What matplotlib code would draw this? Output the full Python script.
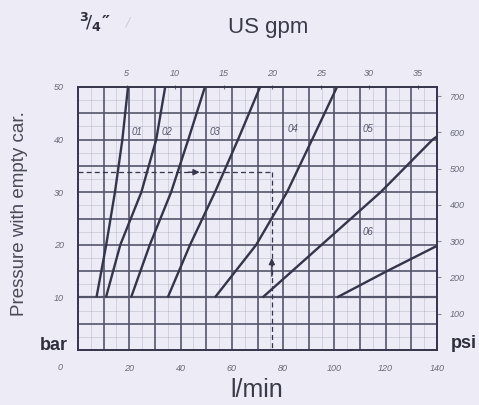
import matplotlib
matplotlib.use("Agg")
import matplotlib.pyplot as plt
import numpy as np

# ---- data ----
bar_ticks = [10, 20, 30, 40, 50]
lpm_ticks = [20, 40, 60, 80, 100, 120, 140]
gpm_ticks = [5, 10, 15, 20, 25, 30, 35]
psi_ticks = [100, 200, 300, 400, 500, 600, 700]

p5 = [10, 20, 30, 40, 50]
c01_q = [7.2, 11.0, 14.4, 17.3, 19.5]
c02_q = [10.9, 16.5, 24.7, 30.5, 34.0]
c03_q = [20.7, 28.0, 36.3, 43.0, 49.5]
c04_q = [35.0, 43.7, 53.4, 62.4, 71.0]
c05_q = [53.4, 69.5, 81.5, 91.3, 101.0]
c06_q = [72.0, 95.0, 118.0, 138.3, 140.0]
c06_p = [10, 20, 30, 40, 40.6]
c07_q = [101.0, 120.5, 140.0]
c07_p = [10, 15, 19.8]

labels = ["01", "02", "03", "04", "05", "06"]
label_q = [23.0, 34.7, 53.4, 83.9, 113.0, 113.0]
label_p = [41.4, 41.4, 41.4, 42.0, 42.0, 22.4]

example_q = 75.6
example_p = 33.8

BG = "#ECEBF6"
INK = "#34344A"
GRID = "#55556B"

fig = plt.figure(figsize=(4.79, 4.05), dpi=100, facecolor=BG)
ax = fig.add_axes([78/479, 1-350/405, (437-78)/479, (350-87)/405])
ax.set_facecolor(BG)
ax.set_xlim(0, 140)
ax.set_ylim(0, 50)

# grid
for x in np.arange(10, 140, 10):
    ax.axvline(x, color=GRID, lw=1.2, zorder=1)
for y in np.arange(5, 50, 5):
    ax.axhline(y, color=GRID, lw=1.2, zorder=1)
for x in np.arange(5, 140, 10):
    ax.axvline(x, color=GRID, lw=0.4, alpha=0.3, zorder=1)
for y in np.arange(2.5, 50, 5):
    ax.axhline(y, color=GRID, lw=0.4, alpha=0.3, zorder=1)
ax.axhline(10, color=GRID, lw=1.6, zorder=1)

for q, p in [(c01_q, p5), (c02_q, p5), (c03_q, p5), (c04_q, p5),
             (c05_q, p5), (c06_q, c06_p), (c07_q, c07_p)]:
    ax.plot(q, p, color=INK, lw=1.7, zorder=3, solid_capstyle="butt",
            solid_joinstyle="round")

for t, q, p in zip(labels, label_q, label_p):
    ax.text(q, p, t, fontsize=7, style="italic", color="#55556A",
            ha="center", va="center", zorder=4, family="Liberation Sans")

# example path
ax.plot([0, example_q], [example_p, example_p], color=INK, lw=0.9,
        ls=(0, (4, 2.5)), zorder=3)
ax.plot([example_q, example_q], [example_p, 0], color=INK, lw=0.9,
        ls=(0, (4, 2.5)), zorder=3)
ax.annotate("", xy=(48.5, example_p), xytext=(42, example_p),
            arrowprops=dict(arrowstyle="-|>", color=INK, lw=1.0,
                            mutation_scale=9), zorder=4)
ax.annotate("", xy=(example_q, 18.0), xytext=(example_q, 13.5),
            arrowprops=dict(arrowstyle="-|>", color=INK, lw=1.0,
                            mutation_scale=9), zorder=4)

for s in ax.spines.values():
    s.set_color(INK)
    s.set_linewidth(1.4)

tick_font = dict(fontsize=6.5, style="italic", color="#6A6A78",
                 family="Liberation Sans")
ax.set_xticks(lpm_ticks)
ax.set_xticklabels([str(v) for v in lpm_ticks], **tick_font)
ax.set_yticks(bar_ticks)
ax.set_yticklabels([str(v) for v in bar_ticks], **tick_font)
ax.tick_params(axis="both", length=0, pad=10)

top = ax.secondary_xaxis("top", functions=(lambda q: q / 3.785, lambda g: g * 3.785))
top.set_xticks(gpm_ticks)
top.set_xticklabels([str(v) for v in gpm_ticks], **tick_font)
top.tick_params(length=3, width=0.8, color="#6A6A78", pad=5, direction="inout")
top.spines["top"].set_visible(False)

right = ax.secondary_yaxis("right", functions=(lambda b: b * 14.5038, lambda p: p / 14.5038))
right.set_yticks(psi_ticks)
right.set_yticklabels([str(v) for v in psi_ticks], **tick_font)
right.tick_params(length=3, width=0.8, color="#8A8A98", pad=6, direction="out")
right.spines["right"].set_visible(False)

# texts
fig.text(257/479, 1-390/405, "l/min", fontsize=18, color="#3A3A48",
         ha="center", va="center", family="Liberation Sans")
fig.text(268/479, 1-28/405, "US gpm", fontsize=16, color="#3A3A48",
         ha="center", va="center", family="Liberation Sans")
fig.text(95/479, 1-22/405, r"$^{\mathbf{3}}\!/_{\mathbf{4}}$" + "\u2033",
         fontsize=13, color="#2E2E3C", ha="center", va="center",
         fontweight="bold")
fig.text(128/479, 1-22/405, "/", fontsize=9, color="#C8C8D8",
         ha="center", va="center", style="italic")
fig.text(20/479, 1-214/405, "Pressure with empty car.", fontsize=13.5,
         rotation=90, color="#4A4A5A", ha="center", va="center",
         family="Liberation Sans")
fig.text(54/479, 1-345/405, "bar", fontsize=13, fontweight="bold",
         color="#2E2E3C", ha="center", va="center", family="Liberation Sans")
fig.text(464/479, 1-343/405, "psi", fontsize=13, fontweight="bold",
         color="#2E2E3C", ha="center", va="center", family="Liberation Sans")
fig.text(60/479, 1-368/405, "0", fontsize=6.5, style="italic",
         color="#6A6A78", ha="center", va="center", family="Liberation Sans")

fig.savefig("out.png", dpi=100, facecolor=BG)
